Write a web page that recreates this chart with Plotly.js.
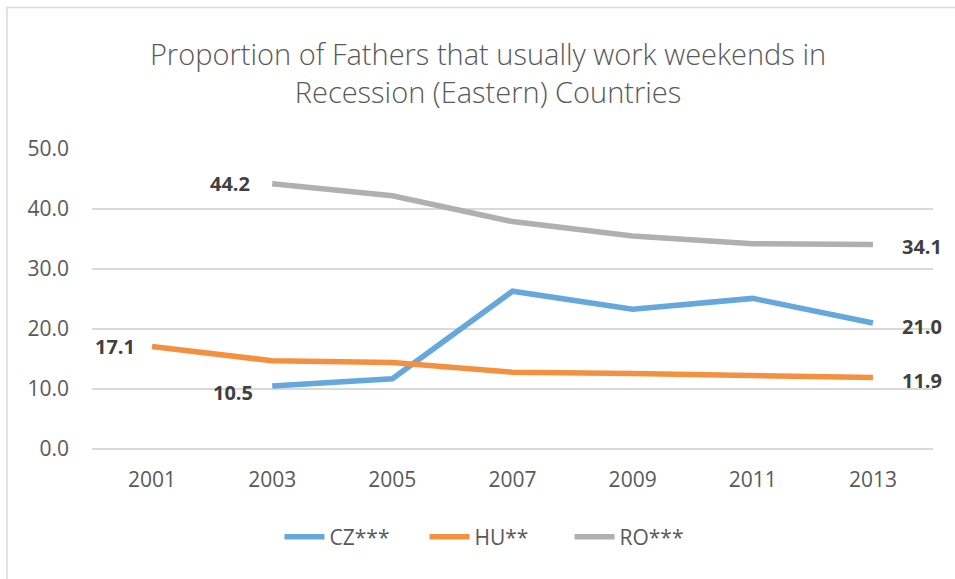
<!DOCTYPE html>
<html>
<head>
<meta charset="utf-8">
<script src="https://cdn.plot.ly/plotly-3.0.1.min.js"></script>
<style>
  html, body { margin: 0; padding: 0; background: #ffffff; }
  #chart { width: 955px; height: 579px; }
</style>
</head>
<body>
<div id="chart"></div>
<script>
// Survey years (category axis)
const years = ['2001', '2003', '2005', '2007', '2009', '2011', '2013'];

// Share of fathers usually working weekends, by country (null = no survey)
const cz = [null, 10.5, 11.7, 26.3, 23.3, 25.1, 21.0];
const hu = [17.1, 14.7, 14.4, 12.8, 12.6, 12.2, 11.9];
const ro = [null, 44.2, 42.2, 37.9, 35.5, 34.2, 34.1];

const seriesNames = ['CZ***', 'HU**', 'RO***'];
const seriesColors = ['#66A7DC', '#F39140', '#B0B0B0'];

const FONT = '"Open Sans", "Noto Sans", sans-serif';

const traces = [cz, hu, ro].map((vals, i) => ({
  type: 'scatter',
  mode: 'lines',
  x: years,
  y: vals,
  name: seriesNames[i],
  line: { color: seriesColors[i], width: 5.5 },
  connectgaps: false,
  hoverinfo: 'x+y+name'
}));

// Value labels at the first and last point of each series
function firstIdx(a) { return a.findIndex(v => v !== null); }
function lastIdx(a) { for (let i = a.length - 1; i >= 0; i--) if (a[i] !== null) return i; return -1; }

const labelSpecs = [
  { data: cz, idx: firstIdx(cz), side: 'left',  xs: -17, ys: -6 },
  { data: cz, idx: lastIdx(cz),  side: 'right', xs: 27,  ys: -3 },
  { data: hu, idx: firstIdx(hu), side: 'left',  xs: -15, ys: 0 },
  { data: hu, idx: lastIdx(hu),  side: 'right', xs: 27,  ys: -3 },
  { data: ro, idx: firstIdx(ro), side: 'left',  xs: -20, ys: 0 },
  { data: ro, idx: lastIdx(ro),  side: 'right', xs: 27,  ys: -2 }
];

// On a category axis annotations are placed by category index
const annotations = labelSpecs.map(s => ({
  x: s.idx,
  y: s.data[s.idx],
  xref: 'x',
  yref: 'y',
  text: '<b>' + s.data[s.idx].toFixed(1) + '</b>',
  showarrow: false,
  xanchor: s.side === 'left' ? 'right' : 'left',
  yanchor: 'middle',
  xshift: s.xs,
  yshift: s.ys,
  font: { family: FONT, size: 20, color: '#404040' }
}));

const layout = {
  width: 955,
  height: 579,
  margin: { l: 92, r: 22, t: 149, b: 130 },
  paper_bgcolor: '#ffffff',
  plot_bgcolor: '#ffffff',
  title: {
    text: 'Proportion of Fathers that usually work weekends in<br>Recession (Eastern) Countries',
    x: 488 / 955,
    xref: 'container',
    xanchor: 'center',
    y: 1 - 65 / 579,
    yref: 'container',
    yanchor: 'middle',
    font: { family: FONT, size: 29, color: '#595959', weight: 300 }
  },
  xaxis: {
    type: 'category',
    range: [-0.5, 6.5],
    showgrid: false,
    zeroline: false,
    showline: false,
    ticks: '',
    ticklabelstandoff: 16,
    tickfont: { family: FONT, size: 21, color: '#595959' },
    fixedrange: true
  },
  yaxis: {
    range: [0, 50],
    dtick: 10,
    tick0: 0,
    tickformat: '.1f',
    showgrid: true,
    gridcolor: '#d9d9d9',
    gridwidth: 1.5,
    zeroline: true,
    zerolinecolor: '#d9d9d9',
    zerolinewidth: 1.5,
    showline: false,
    ticks: '',
    ticklabelstandoff: 22,
    tickfont: { family: FONT, size: 21, color: '#595959' },
    fixedrange: true
  },
  legend: {
    orientation: 'h',
    xref: 'container',
    yref: 'container',
    x: 497 / 955,
    xanchor: 'center',
    y: 1 - 537 / 579,
    yanchor: 'middle',
    font: { family: FONT, size: 21, color: '#595959' },
    itemwidth: 40,
    entrywidth: 90,
    entrywidthmode: 'pixels',
    tracegroupgap: 0
  },
  annotations: annotations,
  shapes: [{
    type: 'rect',
    xref: 'paper',
    yref: 'paper',
    x0: (7 - 92) / 841,
    x1: 1.2,
    y0: -1,
    y1: (449 - 7.5) / 300,
    line: { color: '#d9d9d9', width: 1.5 },
    fillcolor: 'rgba(0,0,0,0)',
    layer: 'below'
  }],
  showlegend: true
};

Plotly.newPlot('chart', traces, layout, { displayModeBar: false, staticPlot: true });
</script>
</body>
</html>
